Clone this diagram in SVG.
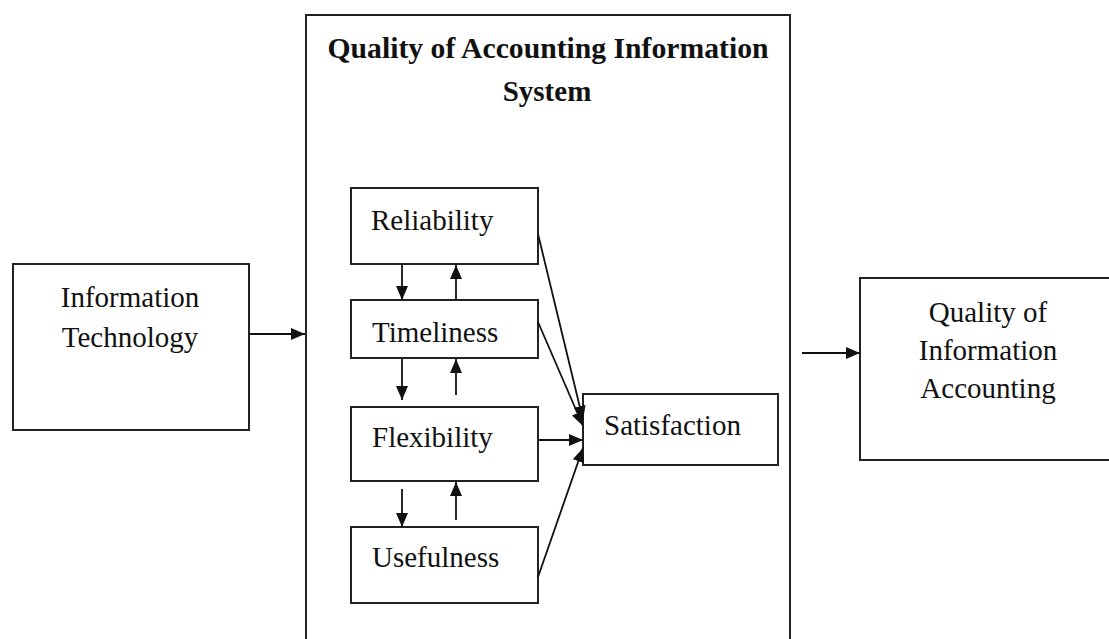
<svg xmlns="http://www.w3.org/2000/svg" width="1109" height="639" viewBox="0 0 1109 639">
<defs>
<style>
.box{fill:#fff;stroke:#222;stroke-width:2}
.t{font-family:"Liberation Serif","Times New Roman",serif;font-size:29px;fill:#111}
.tb{font-family:"Liberation Serif","Times New Roman",serif;font-size:29px;font-weight:bold;fill:#111}
.c{stroke:#111;stroke-width:1.8;fill:none;marker-end:url(#ah)}
</style>
<marker id="ah" markerUnits="userSpaceOnUse" markerWidth="14" markerHeight="12" refX="14" refY="6" orient="auto">
<path d="M0,0 L14,6 L0,12 z" fill="#111"/>
</marker>
</defs>
<rect width="1109" height="639" fill="#fff"/>
<g id="qais">
<rect class="box" x="306" y="15" width="484" height="640"/>
<text class="tb" x="548" y="58" text-anchor="middle" textLength="441" lengthAdjust="spacingAndGlyphs">Quality of Accounting Information</text>
<text class="tb" x="547" y="101" text-anchor="middle">System</text>
</g>
<g id="it">
<rect class="box" x="13" y="264" width="236" height="166"/>
<text class="t" x="130" y="307" text-anchor="middle">Information</text>
<text class="t" x="130" y="347" text-anchor="middle">Technology</text>
</g>
<g id="qia">
<rect class="box" x="860" y="278" width="260" height="182"/>
<text class="t" x="988" y="322" text-anchor="middle">Quality of</text>
<text class="t" x="988" y="360" text-anchor="middle">Information</text>
<text class="t" x="988" y="398" text-anchor="middle">Accounting</text>
</g>
<g id="reliability">
<rect class="box" x="351" y="188" width="187" height="76"/>
<text class="t" x="371" y="230">Reliability</text>
</g>
<g id="timeliness">
<rect class="box" x="351" y="300" width="187" height="58"/>
<text class="t" x="372" y="342">Timeliness</text>
</g>
<g id="flexibility">
<rect class="box" x="351" y="407" width="187" height="74"/>
<text class="t" x="372" y="447">Flexibility</text>
</g>
<g id="usefulness">
<rect class="box" x="351" y="527" width="187" height="76"/>
<text class="t" x="372" y="567">Usefulness</text>
</g>
<g id="satisfaction">
<rect class="box" x="583" y="394" width="195" height="71"/>
<text class="t" x="604" y="435">Satisfaction</text>
</g>
<g id="connectors">
<line class="c" x1="249" y1="334" x2="305" y2="334"/>
<line class="c" x1="802" y1="353" x2="860" y2="353"/>
<line class="c" x1="402" y1="265" x2="402" y2="300"/>
<line class="c" x1="456" y1="300" x2="456" y2="265"/>
<line class="c" x1="402" y1="359" x2="402" y2="400"/>
<line class="c" x1="456" y1="395" x2="456" y2="359"/>
<line class="c" x1="402" y1="489" x2="402" y2="527"/>
<line class="c" x1="456" y1="520" x2="456" y2="482"/>
<line class="c" x1="538" y1="234" x2="583" y2="420"/>
<line class="c" x1="538" y1="322" x2="583" y2="426"/>
<line class="c" x1="539" y1="440" x2="583" y2="440"/>
<line class="c" x1="538" y1="577" x2="583" y2="448"/>
</g>
</svg>
